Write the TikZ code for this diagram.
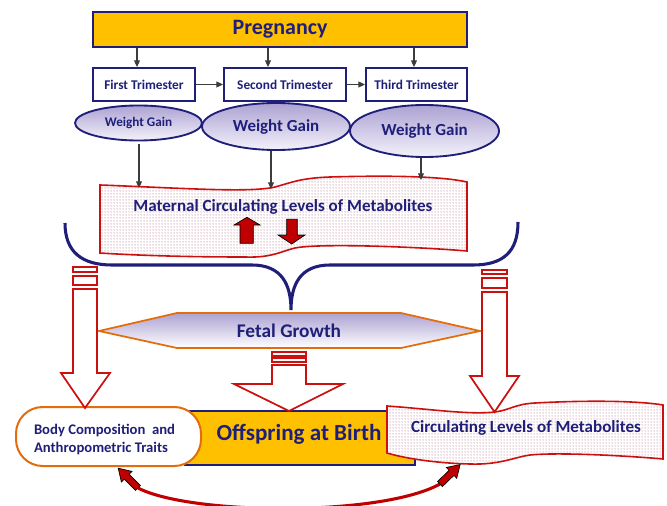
\documentclass[tikz,border=0pt]{standalone}
\usepackage{fontspec}
\setmainfont{Carlito}
\usetikzlibrary{arrows.meta,patterns.meta,shapes.geometric,calc}
\definecolor{navy}{RGB}{31,31,122}
\definecolor{gold}{RGB}{255,192,0}
\definecolor{orng}{RGB}{228,108,10}
\definecolor{redl}{RGB}{204,16,16}
\definecolor{dred}{RGB}{192,0,0}
\definecolor{lavtop}{RGB}{172,162,210}
\definecolor{lavbot}{RGB}{244,242,251}
\definecolor{dotc}{RGB}{185,120,140}
\definecolor{linegray}{RGB}{60,60,60}
\tikzset{
  tribox/.style={draw=navy, line width=1.5pt, fill=white, minimum height=24.75pt, inner sep=0pt,
    font=\fontsize{10}{12}\selectfont\bfseries, text=navy},
  wg/.style={ellipse, draw=navy, line width=1.4pt, top color=lavtop, bottom color=lavbot, inner sep=0pt, text=navy},
  thinarrow/.style={draw=linegray, line width=0.8pt, -{Triangle[length=5pt,width=4.5pt]}},
  hollow/.style={draw=redl, line width=1.3pt, fill=white},
  redblock/.style={fill=dred, draw=black, line width=0.5pt},
  wavebox/.style={draw=redl, line width=1.2pt, preaction={fill=white},
    pattern={Dots[distance=2.25pt, radius=0.38pt]}, pattern color=dotc},
  lbl/.style={text=navy, inner sep=0pt},
  blockarrow/.pic={\draw[redblock] (0,-3.5) -- (16,-3.5) -- (16,-7.5) -- (28,0) -- (16,7.5) -- (16,3.5) -- (0,3.5) -- cycle;}
}
\begin{document}
\begin{tikzpicture}[x=0.75pt,y=-0.75pt]
\useasboundingbox (0,0) rectangle (667,506);

% Pregnancy and trimesters
\node[draw=navy, line width=1.5pt, fill=gold, minimum width=280.5pt, minimum height=26.25pt, inner sep=0pt,
  text=navy, font=\fontsize{16.5}{19}\selectfont\bfseries] (preg) at (280,29.5) {Pregnancy};
\node[tribox, minimum width=76.5pt] (t1) at (144,84.5) {First Trimester};
\node[tribox, minimum width=91.5pt] (t2) at (285,84.5) {Second Trimester};
\node[tribox, minimum width=75.75pt] (t3) at (416.5,84.5) {Third Trimester};
\coordinate (a1) at (137,0);
\coordinate (a2) at (268,0);
\coordinate (a3) at (414,0);
\draw[thinarrow] (preg.south -| a1) -- (t1.north -| a1);
\draw[thinarrow] (preg.south -| a2) -- (t2.north -| a2);
\draw[thinarrow] (preg.south -| a3) -- (t3.north -| a3);
\draw[thinarrow] (t1.east) -- (t2.west);
\draw[thinarrow] (t2.east) -- (t3.west);

% Weight gain ellipses
\node[wg, minimum width=95.25pt, minimum height=26.25pt, font=\fontsize{9.9}{12}\selectfont\bfseries] (e1) at (138.5,123) {Weight Gain};
\node[wg, minimum width=111pt, minimum height=35.25pt, font=\fontsize{12.7}{15}\selectfont\bfseries] (e2) at (276,126.5) {Weight Gain};
\node[wg, minimum width=111.75pt, minimum height=39pt, font=\fontsize{12.7}{15}\selectfont\bfseries] (e3) at (424.5,131) {Weight Gain};

% Maternal circulating levels (wave)
\path[wavebox] (100,185) .. controls (180,188) and (250,193) .. (275,187)
  .. controls (290,183) and (300,178) .. (330,177)
  .. controls (400,175) and (445,177) .. (467,182) -- (467,251)
  .. controls (420,247) and (320,243) .. (295,248)
  .. controls (282,251) and (272,258) .. (245,257)
  .. controls (180,257) and (130,255) .. (100,253) -- cycle;
\node[lbl, font=\fontsize{12.8}{15}\selectfont\bfseries] (mat) at (283,207) {Maternal Circulating Levels of Metabolites};
\coordinate (m1) at (139,188);
\coordinate (m2) at (271,189);
\coordinate (m3) at (421,180);
\draw[thinarrow, shorten <=2pt] (e1.south -| m1) -- (m1);
\draw[thinarrow] (e2.south -| m2) -- (m2);
\draw[thinarrow] (e3.south -| m3) -- (m3);

% small up/down arrows
\draw[redblock] (240,243.3) -- (240,225) -- (234,225) -- (247,217.3) -- (260,225) -- (253.3,225) -- (253.3,243.3) -- cycle;
\draw[redblock] (286.7,219.3) -- (297.3,219.3) -- (297.3,235) -- (305,235) -- (291.7,244) -- (278,235) -- (286.7,235) -- cycle;

% Brace
\draw[navy, line width=2.3pt] (65,223) .. controls (65,252) and (82,265) .. (112,265) -- (252,265)
  .. controls (282,265) and (291,285) .. (291,310)
  .. controls (291,285) and (300,265) .. (330,265) -- (473,265)
  .. controls (503,265) and (518,252) .. (518,222);

% Fetal growth hexagon
\draw[draw=orng, line width=1.3pt, top color=lavtop, bottom color=white]
  (99,331) -- (177,313) -- (401,313) -- (480,331) -- (401,348) -- (177,348) -- cycle;
\node[lbl, font=\fontsize{14.5}{17}\selectfont\bfseries] (fetal) at (289,331) {Fetal Growth};

% Offspring row
\node[draw=navy, line width=1.5pt, fill=gold, minimum width=172.5pt, minimum height=40.5pt, inner sep=0pt] (off) at (300,438) {};
\node[lbl, font=\fontsize{17.3}{20}\selectfont\bfseries] (offt) at (299,434) {Offspring at Birth};
\node[draw=orng, line width=1.5pt, fill=white, rounded corners=20pt, minimum width=138.75pt, minimum height=44.25pt, inner sep=0pt] (body) at (108.5,436.5) {};
\node[lbl, align=left, font=\fontsize{11}{13.5}\selectfont\bfseries] (bodyt) at (104.5,439) {Body Composition\ \ and\\Anthropometric Traits};
\path[wavebox] (387,406) .. controls (430,409) and (470,415) .. (495,412)
  .. controls (510,410) and (515,404) .. (535,403)
  .. controls (590,400) and (640,401) .. (663,405) -- (663,459)
  .. controls (630,456) and (560,452) .. (530,455)
  .. controls (515,457) and (500,465) .. (470,464)
  .. controls (430,463) and (400,457) .. (387,453) -- cycle;
\node[lbl, font=\fontsize{12.8}{15}\selectfont\bfseries] (circ) at (526,428) {Circulating Levels of Metabolites};

% Hollow arrows
\draw[hollow] (73,267) rectangle (97,272);
\draw[hollow] (73,276) rectangle (97,285);
\draw[hollow] (73,289) -- (97,289) -- (97,373) -- (110,373) -- (85,408) -- (61,373) -- (73,373) -- cycle;
\draw[hollow] (482,270) rectangle (507,274);
\draw[hollow] (482,278) rectangle (507,288);
\draw[hollow] (482,292) -- (507,292) -- (507,376) -- (519,376) -- (494.5,412) -- (470,376) -- (482,376) -- cycle;
\draw[hollow] (272,352) rectangle (306,356);
\draw[hollow] (272,358) rectangle (306,362);
\draw[hollow] (272,365) -- (306,365) -- (306,384) -- (343,384) -- (289,411) -- (234,384) -- (272,384) -- cycle;

% Bottom double arrow
\coordinate (lt) at (138,488);
\coordinate (rt) at (440,484);
\draw[dred, line width=2.3pt] (lt) .. controls (190,515) and (380,517) .. (rt);
\pic[rotate=135] at (lt) {blockarrow};
\pic[rotate=44] at (rt) {blockarrow};
\end{tikzpicture}
\end{document}
